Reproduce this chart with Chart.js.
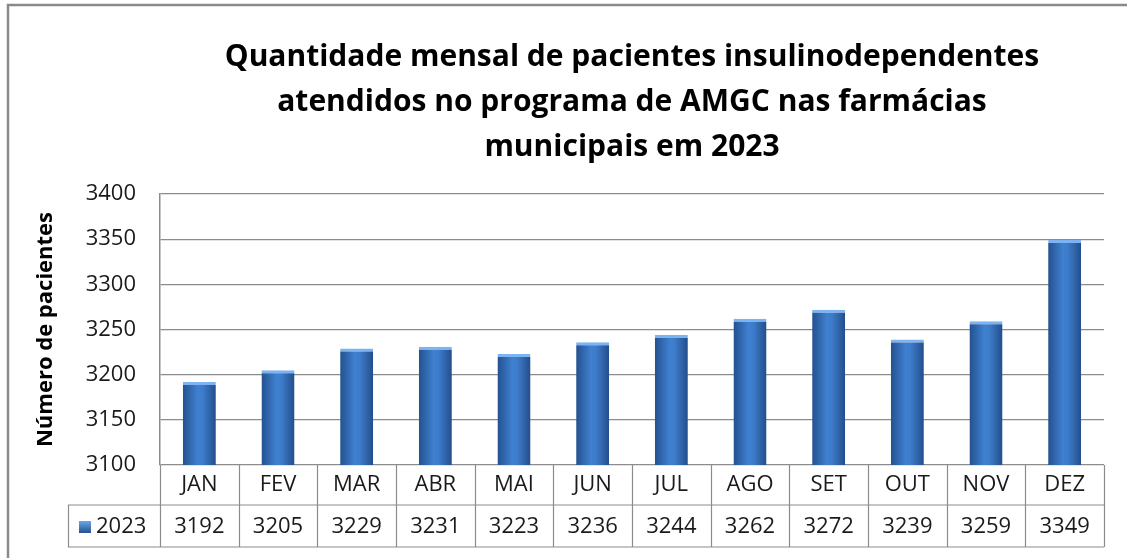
<!DOCTYPE html>
<html>
<head>
<meta charset="utf-8">
<script src="https://cdn.jsdelivr.net/npm/chart.js@4"></script>
<style>
  body { margin: 0; background: #fff; }
  #wrap { width: 1127px; height: 558px; position: relative; }
</style>
</head>
<body>
<div id="wrap"><canvas id="chart"></canvas></div>
<script>
// --- Data ---
const months = ['JAN', 'FEV', 'MAR', 'ABR', 'MAI', 'JUN', 'JUL', 'AGO', 'SET', 'OUT', 'NOV', 'DEZ'];
const values2023 = [3192, 3205, 3229, 3231, 3223, 3236, 3244, 3262, 3272, 3239, 3259, 3349];
const seriesLabel = '2023';
const titleLines = [
    'Quantidade mensal de pacientes insulinodependentes',
    'atendidos no programa de AMGC nas farmácias',
    'municipais em 2023'
];
const yAxisTitle = 'Número de pacientes';
const yMin = 3100, yMax = 3400, yStep = 50;

const FONT = "'Open Sans', sans-serif";
const GRID = '#8c8c8c';
const BAR_PCT = 0.42;
const TXT = 22;

// horizontal gradient so the bars look like cylinders
const barFill = (c) => {
    const xs = c.chart.scales.x;
    if (!xs || c.dataIndex == null) return '#3b73bd';
    const cx = xs.getPixelForValue(c.dataIndex);
    const half = (xs.width / months.length) * BAR_PCT / 2;
    if (!Number.isFinite(cx) || !Number.isFinite(half) || half <= 0) return '#3b73bd';
    const g = c.chart.ctx.createLinearGradient(cx - half, 0, cx + half, 0);
    g.addColorStop(0, '#24518f');
    g.addColorStop(0.45, '#3f80d0');
    g.addColorStop(0.6, '#3d7cca');
    g.addColorStop(1, '#234e8a');
    return g;
};

// frame around the whole chart (only top/left visible in the picture)
const framePlugin = {
    id: 'frame',
    beforeDraw(chart) {
        const { ctx } = chart;
        ctx.save();
        ctx.fillStyle = '#fff';
        ctx.fillRect(0, 0, chart.width, chart.height);
        ctx.strokeStyle = '#8a8a8a';
        ctx.lineWidth = 2.5;
        ctx.strokeRect(8, 5, chart.width + 20, chart.height + 20);
        ctx.restore();
    }
};

// data table under the x axis
const tablePlugin = {
    id: 'dataTable',
    afterDraw(chart) {
        const { ctx, chartArea: { left, right, bottom } } = chart;
        const xs = chart.scales.x;
        const row2 = bottom + 40, row3 = bottom + 82;
        const keyLeft = 68;
        const cw = (right - left) / months.length;

        ctx.save();
        ctx.strokeStyle = GRID;
        ctx.lineWidth = 1.2;
        ctx.beginPath();
        for (let i = 0; i <= months.length; i++) {
            const x = Math.round(left + i * cw) + 0.5;
            ctx.moveTo(x, bottom);
            ctx.lineTo(x, row3);
        }
        ctx.moveTo(keyLeft, row2); ctx.lineTo(right, row2);
        ctx.moveTo(keyLeft, row3); ctx.lineTo(right, row3);
        ctx.moveTo(keyLeft + 0.5, row2); ctx.lineTo(keyLeft + 0.5, row3);
        ctx.stroke();

        ctx.fillStyle = '#1a1a1a';
        ctx.font = `${TXT}px ${FONT}`;
        ctx.textAlign = 'center';
        ctx.textBaseline = 'middle';
        const midY = (row2 + row3) / 2 + 1;
        values2023.forEach((v, i) => {
            ctx.fillText(String(v), xs.getPixelForValue(i), midY);
        });

        // legend key
        const kx = 79, ky = midY - 6;
        const g = ctx.createLinearGradient(kx, ky, kx, ky + 12);
        g.addColorStop(0, '#6aa6ea');
        g.addColorStop(1, '#24518f');
        ctx.fillStyle = g;
        ctx.fillRect(kx, ky, 12, 12);
        ctx.fillStyle = '#1a1a1a';
        ctx.textAlign = 'left';
        ctx.fillText(seriesLabel, 96, midY);
        ctx.restore();
    }
};

new Chart(document.getElementById('chart'), {
    type: 'bar',
    data: {
        labels: months,
        datasets: [{
            label: seriesLabel,
            data: values2023,
            backgroundColor: barFill,
            borderColor: '#7db3f0',
            borderWidth: { top: 3, left: 0, right: 0, bottom: 0 },
            borderSkipped: 'bottom',
            categoryPercentage: 1,
            barPercentage: BAR_PCT
        }]
    },
    options: {
        responsive: true,
        maintainAspectRatio: false,
        animation: false,
        layout: { padding: { left: 30, right: 23, top: 0, bottom: 0 } },
        plugins: {
            legend: { display: false },
            tooltip: { enabled: false },
            title: {
                display: true,
                fullSize: false,
                text: titleLines,
                color: '#000',
                font: { family: FONT, size: 30, weight: 'bold', lineHeight: 1.5 },
                padding: { top: 35, bottom: 24 }
            }
        },
        scales: {
            x: {
                afterFit: (s) => { s.height = 93; },
                grid: { display: false, drawTicks: false },
                border: { display: false },
                ticks: { color: '#1a1a1a', font: { family: FONT, size: TXT }, padding: 7, maxRotation: 0 }
            },
            y: {
                min: yMin,
                max: yMax,
                afterFit: (s) => { s.width = 130; },
                ticks: {
                    stepSize: yStep,
                    color: '#1a1a1a',
                    font: { family: FONT, size: TXT },
                    padding: 24,
                    callback: (v) => String(v)
                },
                grid: { color: GRID, lineWidth: 1.2, drawTicks: false },
                border: { display: true, color: GRID, width: 1.5 },
                title: {
                    display: true,
                    text: yAxisTitle,
                    color: '#000',
                    font: { family: FONT, size: 22, weight: 'bold' },
                    padding: { top: 3, bottom: 0 }
                }
            }
        }
    },
    plugins: [framePlugin, tablePlugin]
});
</script>
</body>
</html>
